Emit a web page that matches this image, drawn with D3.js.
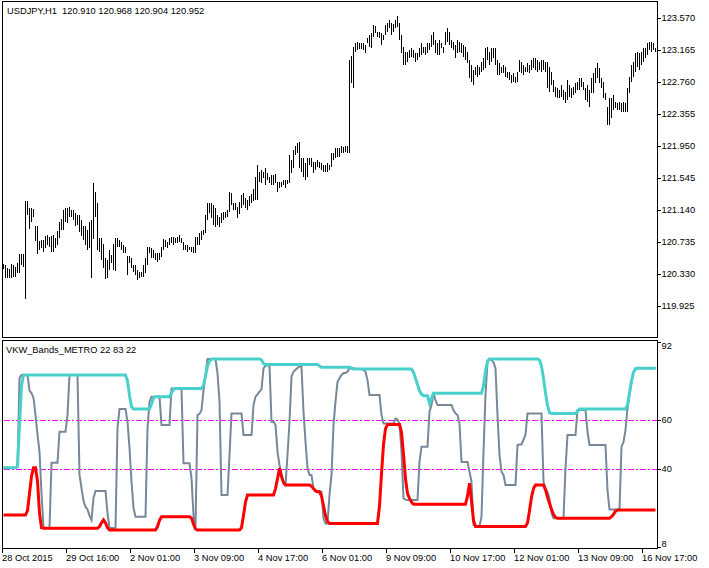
<!DOCTYPE html>
<html><head><meta charset="utf-8">
<script src="https://cdn.jsdelivr.net/npm/d3@7"></script>
<style>
body{margin:0;background:#fff}
svg{display:block}
text{font-family:"Liberation Sans",Arial,sans-serif;font-size:9.3px;fill:#000}
</style>
</head><body>
<svg id="c" width="709" height="568"></svg>
<script>
const headerText = "USDJPY,H1  120.910 120.968 120.904 120.952";
const indicatorTitle = "VKW_Bands_METRO 22 83 22";

const barHigh = [
120.46,120.44,120.41,120.39,120.46,120.44,120.42,120.47,120.58,120.58,
120.58,121.25,121.25,121.17,121.17,121.15,120.94,120.94,120.75,120.76,
120.76,120.81,120.82,120.80,120.81,120.82,120.79,120.87,120.99,121.03,
121.14,121.17,121.17,121.18,121.14,121.14,121.10,121.08,121.08,121.01,
120.94,120.94,120.89,120.99,121.01,121.48,121.37,121.23,120.79,120.79,
120.71,120.53,120.51,120.63,120.57,120.71,120.79,120.79,120.76,120.74,
120.70,120.67,120.56,120.56,120.53,120.44,120.44,120.38,120.36,120.36,
120.44,120.53,120.67,120.67,120.66,120.63,120.60,120.60,120.60,120.67,
120.77,120.76,120.74,120.79,120.80,120.80,120.79,120.80,120.82,120.79,
120.74,120.70,120.70,120.67,120.67,120.67,120.80,120.80,120.85,120.87,
120.89,121.08,121.23,121.23,121.23,121.20,121.17,121.08,121.05,121.10,
121.12,121.12,121.14,121.37,121.36,121.23,121.23,121.18,121.24,121.33,
121.36,121.29,121.27,121.32,121.34,121.41,121.56,121.71,121.62,121.65,
121.62,121.67,121.61,121.56,121.58,121.58,121.60,121.50,121.50,121.50,
121.52,121.52,121.52,121.84,121.77,121.90,121.95,121.99,122.00,121.80,
121.80,121.74,121.80,121.80,121.80,121.75,121.75,121.77,121.75,121.74,
121.71,121.71,121.74,121.71,121.86,121.86,121.93,121.93,121.93,121.95,
121.94,121.95,121.95,123.04,123.09,123.20,123.25,123.27,123.25,123.25,
123.25,123.23,123.32,123.36,123.38,123.48,123.47,123.39,123.39,123.38,
123.36,123.48,123.51,123.55,123.51,123.49,123.55,123.60,123.51,123.36,
123.20,123.14,123.14,123.17,123.19,123.17,123.13,123.13,123.19,123.25,
123.20,123.20,123.25,123.25,123.36,123.39,123.29,123.25,123.29,123.25,
123.20,123.39,123.44,123.39,123.29,123.27,123.23,123.29,123.27,123.25,
123.23,123.20,123.14,123.04,122.98,122.91,122.95,122.98,122.95,123.01,
123.06,123.19,123.20,123.14,123.19,123.19,123.19,123.04,123.00,122.95,
122.98,122.95,122.89,122.89,122.85,122.87,122.82,122.89,123.04,123.01,
122.98,122.95,123.00,122.98,123.04,123.06,123.06,123.04,123.01,123.04,
123.04,123.01,123.01,122.95,122.89,122.79,122.70,122.68,122.66,122.72,
122.66,122.63,122.79,122.72,122.68,122.70,122.75,122.76,122.81,122.81,
122.76,122.68,122.72,122.66,122.81,122.87,122.94,123.00,122.94,122.81,
122.76,122.62,122.44,122.56,122.56,122.60,122.51,122.49,122.51,122.49,
122.51,122.49,122.68,122.82,122.98,123.01,123.13,123.14,123.13,123.14,
123.19,123.19,123.25,123.27,123.27,123.25,123.19
];

const barLow = [
120.39,120.28,120.28,120.28,120.28,120.29,120.29,120.34,120.34,120.44,
120.42,120.01,121.08,120.90,120.99,121.05,120.75,120.58,120.63,120.66,
120.61,120.66,120.70,120.67,120.61,120.61,120.66,120.70,120.79,120.89,
120.89,120.99,120.98,121.05,121.05,121.01,120.94,120.95,120.86,120.81,
120.76,120.70,120.63,120.66,120.28,120.77,121.05,120.63,120.61,120.51,
120.41,120.27,120.28,120.38,120.47,120.38,120.37,120.67,120.67,120.63,
120.60,120.60,120.32,120.47,120.41,120.36,120.32,120.25,120.28,120.29,
120.29,120.34,120.44,120.60,120.53,120.53,120.51,120.48,120.51,120.55,
120.63,120.67,120.66,120.70,120.72,120.70,120.72,120.72,120.74,120.72,
120.63,120.63,120.61,120.63,120.61,120.60,120.60,120.70,120.70,120.76,
120.82,120.85,121.01,121.10,121.04,120.95,120.93,120.95,120.93,120.98,
121.01,121.04,121.05,121.12,121.20,121.14,121.14,121.04,121.09,121.17,
121.20,121.17,121.14,121.19,121.23,121.25,121.27,121.27,121.50,121.48,
121.55,121.46,121.52,121.48,121.46,121.46,121.48,121.37,121.42,121.43,
121.46,121.42,121.47,121.48,121.61,121.67,121.84,121.86,121.67,121.62,
121.56,121.52,121.56,121.71,121.68,121.61,121.65,121.68,121.67,121.65,
121.62,121.62,121.62,121.65,121.68,121.77,121.80,121.81,121.81,121.86,
121.86,121.87,121.86,121.86,122.75,122.68,123.14,123.17,123.18,123.18,
123.17,123.13,123.25,123.20,123.19,123.33,123.38,123.33,123.32,123.23,
123.29,123.36,123.39,123.44,123.36,123.39,123.44,123.46,123.29,123.13,
122.98,122.98,123.01,123.06,123.08,123.06,123.01,123.04,123.08,123.10,
123.13,123.10,123.13,123.17,123.20,123.23,123.13,123.10,123.10,123.19,
123.13,123.23,123.27,123.23,123.19,123.17,123.06,123.13,123.14,123.13,
123.08,123.04,123.00,122.81,122.76,122.72,122.85,122.82,122.85,122.89,
122.91,122.94,123.04,122.98,123.01,123.06,122.98,122.85,122.85,122.87,
122.87,122.82,122.81,122.79,122.75,122.76,122.75,122.76,122.89,122.87,
122.85,122.89,122.89,122.87,122.91,122.94,122.91,122.89,122.91,122.89,
122.91,122.89,122.68,122.63,122.72,122.63,122.57,122.56,122.56,122.57,
122.53,122.49,122.53,122.57,122.56,122.60,122.62,122.66,122.66,122.70,
122.66,122.53,122.51,122.44,122.62,122.62,122.75,122.81,122.75,122.68,
122.56,122.53,122.22,122.22,122.31,122.41,122.43,122.41,122.41,122.38,
122.38,122.38,122.38,122.62,122.76,122.82,122.89,122.95,122.91,122.98,
123.01,123.06,123.10,123.17,123.14,123.17,123.14
];

const upperBand = [
40.5,40.5,40.5,40.5,40.5,40.5,40.5,41,58,74,
78.4,78.4,78.4,78.4,78.4,78.4,78.4,78.4,78.4,78.4,
78.4,78.4,78.4,78.4,78.4,78.4,78.4,78.4,78.4,78.4,
78.4,78.4,78.4,78.4,78.4,78.4,78.4,78.4,78.4,78.4,
78.4,78.4,78.4,78.4,78.4,78.4,78.4,78.4,78.4,78.4,
78.4,78.4,78.4,78.4,78.4,78.4,78.4,78.4,78.4,78.4,
78.4,78.4,76,70,65.5,64.5,64.5,64.5,64.5,64.5,
64.5,64.5,64.5,64.5,66.5,69,69.5,69.5,69.5,69.5,
69.5,69.5,69.5,69.5,71,72.5,72.9,72.9,72.9,72.9,
72.9,72.9,72.9,72.9,72.9,72.9,72.9,72.9,72.9,72.9,
74,78,82,84,84.9,84.9,84.9,84.9,84.9,84.9,
84.9,84.9,84.9,84.9,84.9,84.9,84.9,84.9,84.9,84.9,
84.9,84.9,84.9,84.9,84.9,84.9,84.9,84.9,84.9,84.5,
83,82.7,82.7,82.7,82.7,82.7,82.7,82.7,82.7,82.7,
82.7,82.7,82.7,82.7,82.7,82.7,82.7,82.7,82.7,82.7,
82.7,82.7,82.7,82.7,82.7,82.7,82.7,82.7,82,81.5,
81.5,81.5,81.5,81.5,81.5,81.5,81.5,81.5,81.5,81.5,
81.5,81.5,81.5,81.5,81.2,80.8,80.8,80.8,80.8,80.8,
80.8,80.8,80.8,80.8,80.8,80.8,80.8,80.8,80.8,80.8,
80.8,80.8,80.8,80.8,80.8,80.8,80.8,80.8,80.8,80.8,
80.8,80.8,80.8,80.8,80.8,79.5,77,74.5,72,70.5,
69.9,69.9,69.9,66.8,69,70.9,70.9,70.9,70.9,70.9,
70.9,70.9,70.9,70.9,70.9,70.9,70.9,70.9,70.9,70.9,
70.9,70.9,70.9,70.9,70.9,70.9,70.9,70.9,70.9,70.9,
74,80,84,84.9,84.9,84.9,84.9,84.9,84.9,84.9,
84.9,84.9,84.9,84.9,84.9,84.9,84.9,84.9,84.9,84.9,
84.9,84.9,84.9,84.9,84.9,84.9,84.9,84.9,84.5,82,
77,71,66,63,62.7,62.7,62.7,62.7,62.7,62.7,
62.7,62.7,62.7,62.7,62.7,62.7,62.7,63.5,64.5,64.5,
64.5,64.5,64.5,64.5,64.5,64.5,64.5,64.5,64.5,64.5,
64.5,64.5,64.5,64.5,64.5,64.5,64.5,64.5,64.5,64.5,
64.5,64.5,66,71,76,79.5,81,81.1,81.1,81.1,
81.1,81.1,81.1,81.1,81.1,81.1,81.1
];

const oscillator = [
40.5,40.5,40.5,40.5,40.5,40.5,40.5,41,77,78.4,
78.4,78.4,78.4,72,71,69,62,54,47,30,
15.9,15.9,15.9,15.9,42.6,42.6,42.6,42.6,55.2,55.2,
55.2,55.2,62,78.4,78.4,78.4,78.4,78.4,37.6,32.2,
27,24.6,23.5,21,19.2,28.2,31,31,31,31,
31,31,22,15.9,15.9,15.9,15.9,56.7,64.5,64.5,
64.5,64.5,59.3,48.6,34.8,24.1,20.5,20.5,20.5,20.5,
20.5,20.5,56.7,67.5,69.5,69.5,69.5,69.5,69.5,58,
58,58,58,58,72.9,72.9,72.9,72.9,72.9,72.9,
42.3,42.3,42.3,42.3,36.3,21.2,15.9,62,62.5,64,
72,78.4,84.9,84.9,84.9,84.9,84.9,79,67.5,29.4,
29.4,29.4,29.4,45.7,62.7,62.7,62.7,62.7,62.7,62.7,
53.9,53.9,53.9,53.9,53.9,66.1,69.5,70.5,71.6,72.5,
81.1,82.2,82.2,82.2,59.3,59.3,58,47.1,41.6,37.6,
34.2,33.5,45.7,59.3,77.7,79.7,80.5,81.2,81.8,81.8,
63.4,51.2,40.3,37.6,37.6,32.1,31.5,31,30.7,30.7,
19.9,17.8,17.8,29.4,37.6,58,67.5,75.6,77,78.4,
79.2,79.2,79.7,81.1,81.1,81.1,80.8,80.8,80.8,80.8,
80.5,79.7,76.3,70.2,70.2,70.2,70.2,70.2,70.2,62,
58.6,58.6,58.6,58.6,58.6,58.6,60.6,60.2,58.6,47.1,
28,27.5,27.3,27.3,27.3,27.3,27.3,27.3,42.9,49.1,
49.1,49.1,49.1,63.4,66.1,70.9,68,66.1,66.1,66.1,
66.1,66.1,66.1,66.1,66.1,64,62.7,62,58.6,42.9,
42.9,42.9,42.9,38.9,34.8,17.1,16.7,16.7,16.7,20.5,
47.1,70.2,84,84.9,84.5,83.5,81.1,62,45.7,38.9,
37.6,33.5,33.5,33.5,33.5,33.5,33.5,49.8,50,50,
52,54,62.7,62.7,62.7,62.7,62.7,62.7,62.7,62.7,
34.8,32,30.7,28,22,19.9,19.9,19.9,19.9,19.9,
19.9,40.3,53.9,53.9,53.9,53.9,53.9,64.1,64.1,64.1,
64.1,64.1,55.2,49.8,49.8,49.8,49.8,49.8,49.8,49.8,
49.8,49.8,31.4,23.5,23.5,23.5,23.5,23.5,23.5,49.1,
51,56,64.8,70.2,75.6,79.7,80.5,81.1,81.1,81.1,
81.1,81.1,81.1,81.1,81.1,81.1,81.1
];

const lowerBand = [
21.2,21.2,21.2,21.2,21.2,21.2,21.2,21.2,21.2,21.2,
21.2,21.2,23,30,37,40.5,40.5,35,22,16,
15.8,15.8,15.8,15.8,15.8,15.8,15.8,15.8,15.8,15.8,
15.8,15.8,15.8,15.8,15.8,15.8,15.8,15.8,15.8,15.8,
15.8,15.8,15.8,15.8,15.8,15.8,15.8,15.8,16.5,18,
19.2,18,16,15.1,15.1,15.1,15.1,15.1,15.1,15.1,
15.1,15.1,15.1,15.1,15.1,15.1,15.1,15.1,15.1,15.1,
15.1,15.1,15.1,15.1,15.1,15.1,15.1,16.5,19,20.5,
20.5,20.5,20.5,20.5,20.5,20.5,20.5,20.5,20.5,20.5,
20.5,20.5,20.5,20.5,20,17.5,15.5,15.1,15.1,15.1,
15.1,15.1,15.1,15.1,15.1,15.1,15.1,15.1,15.1,15.1,
15.1,15.1,15.1,15.1,15.1,15.1,15.1,15.1,15.1,16,
21,26.5,29.4,29.4,29.4,29.4,29.4,29.4,29.4,29.4,
29.4,29.4,29.4,29.4,29.4,29.4,32,36,40.3,37,
34.5,33.5,33.5,33.5,33.5,33.5,33.5,33.5,33.5,33.5,
33.5,33.5,33.5,33.5,33,32,31,30.7,30.7,29,
25,21,18.5,17.8,17.8,17.8,17.8,17.8,17.8,17.8,
17.8,17.8,17.8,17.8,17.8,17.8,17.8,17.8,17.8,17.8,
17.8,17.8,17.8,17.8,17.8,17.8,17.8,17.8,25,38,
50,56.5,58.2,58.2,58.2,58.2,58.2,58.2,58.2,55,
46,36,30,28,26.5,25.6,25.6,25.6,25.6,25.6,
25.6,25.6,25.6,25.6,25.6,25.6,25.6,25.6,25.6,25.6,
25.6,25.6,25.6,25.6,25.6,25.6,25.6,25.6,25.6,25.6,
25.6,25.6,29,34.2,27,19,16.5,16.5,16.5,16.5,
16.5,16.5,16.5,16.5,16.5,16.5,16.5,16.5,16.5,16.5,
16.5,16.5,16.5,16.5,16.5,16.5,16.5,16.5,16.5,16.5,
16.5,16.5,18,23,28.5,32,33.5,33.5,33.5,33.5,
33.5,31.5,28.5,26,23.5,21.5,20.3,19.9,19.9,19.9,
19.9,19.9,19.9,19.9,19.9,19.9,19.9,19.9,19.9,19.9,
19.9,19.9,19.9,19.9,19.9,19.9,19.9,19.9,19.9,19.9,
19.9,19.9,19.9,19.9,20.5,21.5,22.8,23.3,23.3,23.3,
23.3,23.3,23.3,23.3,23.3,23.3,23.3,23.3,23.3,23.3,
23.3,23.3,23.3,23.3,23.3,23.3,23.3
];

const priceTicks = [123.570,123.165,122.760,122.355,121.950,121.545,121.140,120.735,120.330,119.925];
const indicatorTicks = [92,60,40,8];
const levelValues = [60,40];
const timeTickIndex = [0,32,64,96,128,160,192,224,256,288,320];
const timeTickLabels = ["28 Oct 2015","29 Oct 16:00","2 Nov 01:00","3 Nov 09:00","4 Nov 17:00","6 Nov 01:00","9 Nov 09:00","10 Nov 17:00","12 Nov 01:00","13 Nov 09:00","16 Nov 17:00"];

const svg = d3.select("#c");
const left = 2.5, right = 657.5;
const top1 = 1.5, bot1 = 337.5, top2 = 340.5, bot2 = 548.5;

const x = d3.scaleLinear().domain([0, barHigh.length - 1]).range([3, 655]);
const yP = d3.scaleLinear().domain([119.925, 123.570]).range([306, 18]);
const yI = d3.scaleLinear().domain([8, 92]).range([547.4, 341.6]);

// frames
const g = svg.append("g").attr("shape-rendering","crispEdges");
g.append("rect").attr("x",left).attr("y",top1).attr("width",right-left).attr("height",bot1-top1)
  .attr("fill","none").attr("stroke","#000");
g.append("rect").attr("x",left).attr("y",top2).attr("width",right-left).attr("height",bot2-top2)
  .attr("fill","none").attr("stroke","#000");

// price bars
const bars = svg.append("g").attr("shape-rendering","crispEdges");
bars.selectAll("line").data(barHigh).join("line")
  .attr("x1",(d,i)=>Math.round(x(i))+0.5).attr("x2",(d,i)=>Math.round(x(i))+0.5)
  .attr("y1",d=>Math.round(yP(d)))
  .attr("y2",(d,i)=>Math.max(Math.round(yP(barLow[i])), Math.round(yP(d))+1))
  .attr("stroke","#000").attr("stroke-width",1);

// price axis
const pa = svg.append("g").attr("transform",`translate(${right},0)`)
  .call(d3.axisRight(yP).tickValues(priceTicks).tickFormat(d3.format(".3f")).tickSize(3).tickPadding(1).tickSizeOuter(0));
pa.select(".domain").remove();
pa.selectAll("line").attr("shape-rendering","crispEdges");
pa.selectAll("text").style("font-family","'Liberation Sans',Arial,sans-serif").style("font-size","9.3px");

// indicator clip
svg.append("clipPath").attr("id","ip").append("rect")
  .attr("x",left+0.5).attr("y",top2+0.5).attr("width",right-left-1).attr("height",bot2-top2-1);
const ind = svg.append("g").attr("clip-path","url(#ip)");

// levels
ind.selectAll("line.lvl").data(levelValues).join("line").attr("class","lvl")
  .attr("x1",left+1).attr("x2",right-1)
  .attr("y1",d=>Math.round(yI(d))+0.5).attr("y2",d=>Math.round(yI(d))+0.5)
  .attr("stroke","#FF00FF").attr("stroke-width",1).attr("stroke-dasharray","6,2,2,2")
  .attr("shape-rendering","crispEdges");

const line = d3.line().x((d,i)=>x(i)+0.5).y(d=>yI(d));
ind.append("path").datum(oscillator).attr("d",line).attr("fill","none")
  .attr("stroke","#778899").attr("stroke-width",2).attr("stroke-linejoin","miter");
ind.append("path").datum(upperBand).attr("d",line).attr("fill","none")
  .attr("stroke","#48D1CC").attr("stroke-width",3);
ind.append("path").datum(lowerBand).attr("d",line).attr("fill","none")
  .attr("stroke","#FF0000").attr("stroke-width",3);

// indicator axis
const ia = svg.append("g").attr("transform",`translate(${right},0)`)
  .call(d3.axisRight(yI).tickValues(indicatorTicks).tickFormat(d3.format("d")).tickSize(3).tickPadding(1).tickSizeOuter(0));
ia.select(".domain").remove();
ia.selectAll("line").attr("shape-rendering","crispEdges");
ia.selectAll(".tick").attr("transform",d=>`translate(0,${Math.round(yI(d))+0.5})`);
ia.selectAll("text")
  .attr("y",d=>{const p=yI(d); const c=Math.min(Math.max(p, top2+5), bot2-5); return c-p;})
  .style("font-family","'Liberation Sans',Arial,sans-serif").style("font-size","9.3px");

// time axis
const ta = svg.append("g").attr("transform",`translate(0,${bot2})`)
  .call(d3.axisBottom(x).tickValues(timeTickIndex).tickFormat((d,k)=>timeTickLabels[k]).tickSize(4).tickPadding(2).tickSizeOuter(0));
ta.select(".domain").remove();
ta.selectAll(".tick").attr("transform",d=>`translate(${Math.round(x(d)-1)+0.5},0)`);
ta.selectAll("line").attr("shape-rendering","crispEdges");
ta.selectAll("text").attr("text-anchor","start").attr("x",-0.5)
  .style("font-family","'Liberation Sans',Arial,sans-serif").style("font-size","9.3px");

// titles
svg.append("text").attr("x",7).attr("y",13.5).style("white-space","pre").attr("xml:space","preserve").text(headerText);
svg.append("text").attr("x",6).attr("y",353).text(indicatorTitle);
</script>
</body></html>
